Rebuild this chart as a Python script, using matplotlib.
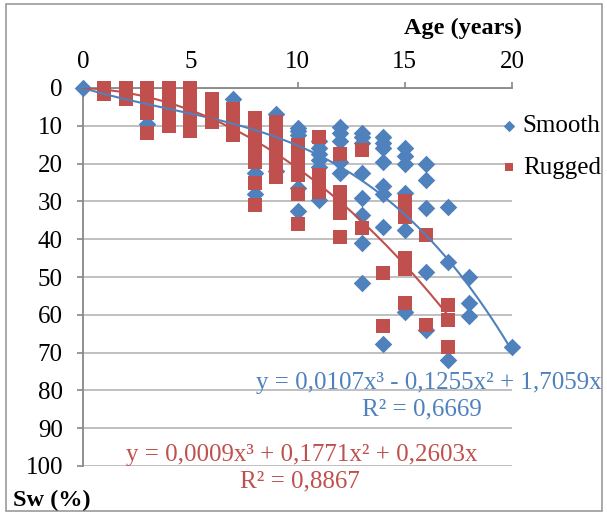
import matplotlib

matplotlib.use("Agg")
import matplotlib.pyplot as plt
import numpy as np
from matplotlib.patches import Rectangle

BLUE = "#4F81BD"
RED = "#C0504D"

# Smooth (blue diamonds): age in years, Sw in %
smooth_age = [0, 3, 7, 8, 8, 9, 9,
              10, 10, 10, 10, 10,
              11, 11, 11, 11, 11, 11,
              12, 12, 12, 12, 12,
              13, 13, 13, 13, 13, 13, 13, 13,
              14, 14, 14, 14, 14, 14, 14, 14,
              15, 15, 15, 15, 15, 15,
              16, 16, 16, 16, 16,
              17, 17, 17,
              18, 18, 18,
              20]
smooth_sw = [0, 9.5, 3, 22.5, 28, 7, 22,
             10.5, 11.5, 12.5, 26.5, 32.5,
             14, 16, 17.5, 19, 21, 29.5,
             10.2, 12, 14, 19.5, 22.6,
             12, 13, 14.5, 22.5, 29, 33.6, 41, 51.5,
             13, 14.5, 16, 19.5, 26, 28, 36.7, 67.8,
             16, 18, 20, 27.8, 37.5, 59.3,
             20, 24.3, 31.7, 48.7, 64,
             31.5, 46, 72,
             50, 57, 60.3,
             68.5]

# Rugged (red squares)
rugged = {
    1: [0, 1, 1.5],
    2: [0, 1, 2, 3],
    3: [0, 1, 2, 3, 4, 5, 6.5, 12],
    4: [0, 1, 2, 3, 4, 5, 6, 7, 8, 9, 10],
    5: [0, 1, 2, 3, 4, 5, 6, 7, 8, 9, 10, 11.5],
    6: [3, 4, 5, 6, 7, 8, 9],
    7: [5.5, 7, 8, 9, 10, 11, 12.5],
    8: [8, 9, 10, 11, 12, 13, 14, 15, 16, 17, 18, 19.5, 25, 31],
    9: [9, 10.5, 12, 13.5, 15, 16.5, 18, 19.5, 21, 23.5],
    10: [15, 16.5, 18, 19.5, 21, 23, 28, 36],
    11: [13, 23, 24.5, 26, 27.5],
    12: [17.5, 27.5, 29, 31, 33, 39.5],
    13: [16.5, 37],
    14: [49, 63],
    15: [30, 32, 34, 45, 46.5, 48, 57],
    16: [39, 62.7],
    17: [57.4, 61.4, 68.5],
}
rugged_age = [a for a, v in rugged.items() for _ in v]
rugged_sw = [s for v in rugged.values() for s in v]

# cubic trendlines (no intercept) as printed on the chart
smooth_coef = [0.0107, -0.1255, 1.7059, 0]
rugged_coef = [0.0009, 0.1771, 0.2603, 0]
smooth_range = (0, 20)
rugged_range = (0, 17)

plt.rcParams["font.family"] = ["Liberation Serif", "DejaVu Serif"]
FS = 18

fig = plt.figure(figsize=(6.07, 5.15), dpi=100)
ax = fig.add_axes([83 / 607, 1 - 466 / 515, 429 / 607, 378 / 515])

ax.scatter(smooth_age, smooth_sw, marker="D", s=80, color=BLUE, zorder=3,
           label="Smooth", linewidths=0, clip_on=False)
ax.scatter(rugged_age, rugged_sw, marker="s", s=95, color=RED, zorder=4,
           label="Rugged", linewidths=0, clip_on=False)

xs = np.linspace(*smooth_range, 200)
ax.plot(xs, np.polyval(smooth_coef, xs), color=BLUE, lw=1.5, zorder=5)
xr = np.linspace(*rugged_range, 200)
ax.plot(xr, np.polyval(rugged_coef, xr), color=RED, lw=1.5, zorder=5)

ax.set_xlim(0, 20)
ax.set_ylim(100, 0)
ax.set_xticks([0, 5, 10, 15, 20])
ax.set_yticks(range(0, 101, 10))
ax.xaxis.tick_top()
ax.tick_params(axis="both", labelsize=FS, colors="#888888", labelcolor="black",
               length=4.5, width=1.2, pad=10)
ax.tick_params(axis="x", pad=6.5)
ax.grid(axis="y", color="#BBBBBB", lw=1.3, zorder=0)
ax.set_axisbelow(True)
for side in ["right", "bottom"]:
    ax.spines[side].set_visible(False)
for side in ["top", "left"]:
    ax.spines[side].set_color("#888888")
    ax.spines[side].set_linewidth(1.3)

fig.text(463 / 607, 1 - 28 / 515, "Age (years)", fontsize=17.5, fontweight="bold",
         ha="center", va="center")
fig.text(13 / 607, 1 - 500 / 515, "Sw (%)", fontsize=17.5, fontweight="bold",
         ha="left", va="center")

fig.text(429 / 607, 1 - 383 / 515, "y = 0,0107x³ - 0,1255x² + 1,7059x",
         fontsize=FS, color=BLUE, ha="center", va="center")
fig.text(422 / 607, 1 - 409 / 515, "R² = 0,6669", fontsize=FS, color=BLUE,
         ha="center", va="center")
fig.text(302 / 607, 1 - 455 / 515, "y = 0,0009x³ + 0,1771x² + 0,2603x",
         fontsize=FS, color=RED, ha="center", va="center")
fig.text(300 / 607, 1 - 481 / 515, "R² = 0,8867", fontsize=FS, color=RED,
         ha="center", va="center")

ax.legend(loc="upper left", bbox_to_anchor=(499 / 607, 1 - 115 / 515),
          bbox_transform=fig.transFigure, frameon=False, fontsize=FS,
          handletextpad=0.15, handlelength=0.8, labelspacing=0.75,
          markerscale=0.65, borderpad=0, borderaxespad=0)

fig.add_artist(Rectangle((6 / 607, 4 / 515), 596 / 607, 507 / 515,
                         transform=fig.transFigure, fill=False,
                         edgecolor="#999999", lw=1.2))

fig.savefig("out.png", dpi=100)
